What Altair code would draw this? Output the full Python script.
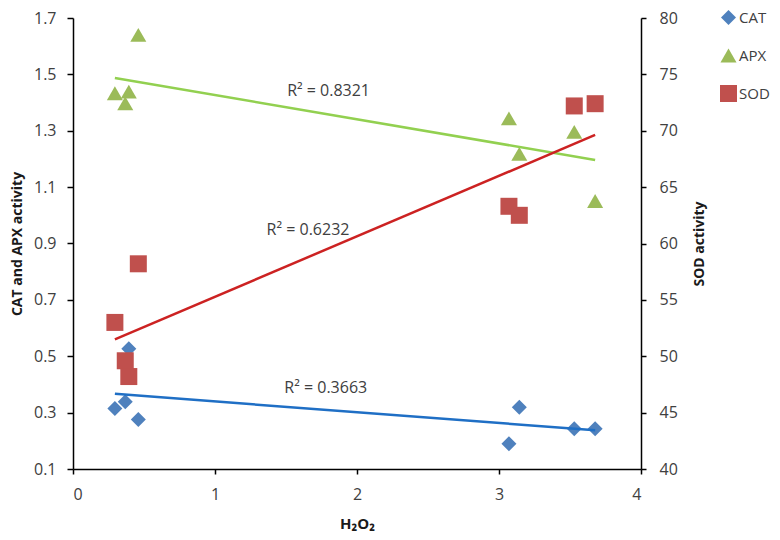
import altair as alt
import pandas as pd

# ---- data ----
h2o2 = [0.295, 0.368, 0.393, 0.46, 3.07, 3.143, 3.53, 3.677]
cat = [0.315, 0.339, 0.527, 0.276, 0.190, 0.319, 0.243, 0.243]
apx = [1.433, 1.397, 1.439, 1.640, 1.344, 1.218, 1.296, 1.051]
sod = [53.0, 49.6, 48.2, 58.2, 63.3, 62.5, 72.2, 72.4]

series = ["CAT", "APX", "SOD"]
point_colors = ["#4F81BD", "#9BBB59", "#C0504D"]
line_colors = ["#1F6FC5", "#92D050", "#CC2222"]
shapes = ["diamond", "triangle-up", "square"]
sizes = [225, 289, 256]

r2_labels = ["R² = 0.3663", "R² = 0.8321", "R² = 0.6232"]
r2_x = [1.78, 1.80, 1.655]
r2_y = [0.387, 1.44, 0.948]

left_ticks = [0.1, 0.3, 0.5, 0.7, 0.9, 1.1, 1.3, 1.5, 1.7]
right_ticks = [40, 45, 50, 55, 60, 65, 70, 75, 80]
x_ticks = [0, 1, 2, 3, 4]

# ---- tables ----
rows = []
for name, vals in zip(series, [cat, apx, sod]):
    for xv, yv in zip(h2o2, vals):
        rows.append({"H2O2": xv, "value": yv, "series": name})
df = pd.DataFrame(rows)
txt = pd.DataFrame({"H2O2": r2_x, "value": r2_y, "label": r2_labels})

FONT = "Open Sans"
LABEL_C = "#404040"
TITLE_C = "#1a1a1a"

x_enc = alt.X(
    "H2O2:Q",
    scale=alt.Scale(domain=[0, 4], nice=False, zero=False),
    axis=alt.Axis(values=x_ticks, format="d", title="H₂O₂", grid=False,
                  domainColor="black", domainWidth=1.5, tickColor="black",
                  tickWidth=1.5, tickSize=5, labelPadding=12, titlePadding=14,
                  labelFont=FONT, labelFontSize=16, labelColor=LABEL_C,
                  titleFont=FONT, titleFontSize=15, titleFontWeight="bold",
                  titleColor=TITLE_C),
)

left_axis = alt.Axis(values=left_ticks, format=".1f", title="CAT and APX activity",
                     grid=False, domainColor="black", domainWidth=1.5,
                     tickColor="black", tickWidth=1.5, tickSize=6, labelPadding=11,
                     titlePadding=9, labelFont=FONT, labelFontSize=16,
                     labelColor=LABEL_C, titleFont=FONT, titleFontSize=14,
                     titleFontWeight="bold", titleColor=TITLE_C)
y_left = alt.Y("value:Q", scale=alt.Scale(domain=[0.1, 1.7], nice=False, zero=False),
               axis=left_axis)

right_axis = alt.Axis(values=right_ticks, format="d", title="SOD activity", orient="right",
                      grid=False, domainColor="black", domainWidth=1.5,
                      tickColor="black", tickWidth=1.5, tickSize=5, labelPadding=13,
                      titlePadding=15, titleAngle=270, titleBaseline="top",
                      labelFont=FONT, labelFontSize=16,
                      labelColor=LABEL_C, titleFont=FONT, titleFontSize=14,
                      titleFontWeight="bold", titleColor=TITLE_C)
y_right = alt.Y("value:Q", scale=alt.Scale(domain=[40, 80], nice=False, zero=False),
                axis=right_axis)

legend = alt.Legend(title=None, orient="none", legendX=647, legendY=-8, padding=0,
                    labelFont=FONT, labelFontSize=15, labelColor=LABEL_C,
                    symbolSize=150, rowPadding=21, labelOffset=2, symbolStrokeWidth=0)
color_enc = alt.Color("series:N", scale=alt.Scale(domain=series, range=point_colors),
                      legend=legend)
shape_enc = alt.Shape("series:N", scale=alt.Scale(domain=series, range=shapes),
                      legend=legend)
size_enc = alt.Size("series:N", scale=alt.Scale(domain=series, range=sizes), legend=None)

base = alt.Chart(df)

left_pts = base.transform_filter(
    alt.FieldOneOfPredicate(field="series", oneOf=["CAT", "APX"])
).mark_point(filled=True, opacity=1, strokeWidth=0).encode(
    x=x_enc, y=y_left, color=color_enc, shape=shape_enc, size=size_enc
)


def trend(name, col, y_enc):
    return base.transform_filter(alt.datum.series == name).transform_regression(
        "H2O2", "value"
    ).mark_line(color=col, strokeWidth=2.5).encode(x=x_enc, y=y_enc)


cat_line = trend("CAT", line_colors[0], y_left)
apx_line = trend("APX", line_colors[1], y_left)

texts = alt.Chart(txt).mark_text(font=FONT, fontSize=16, color=LABEL_C,
                                 align="center", baseline="middle").encode(
    x=x_enc, y=y_left, text="label:N"
)

left = alt.layer(left_pts, cat_line, apx_line, texts)

sod_pts = base.transform_filter(alt.datum.series == "SOD").mark_point(
    filled=True, opacity=1, strokeWidth=0
).encode(x=x_enc, y=y_right, color=color_enc, shape=shape_enc, size=size_enc)
sod_line = trend("SOD", line_colors[2], y_right)
right = alt.layer(sod_pts, sod_line)

chart = alt.layer(left, right).resolve_scale(y="independent").properties(
    width=568, height=451,
    autosize=alt.AutoSizeParams(type="none"),
    padding={"left": 65, "top": 10, "right": 131, "bottom": 63},
    background="white",
).configure_view(stroke=None)

chart.save("out.html", embed_options={"renderer": "svg", "actions": False})
